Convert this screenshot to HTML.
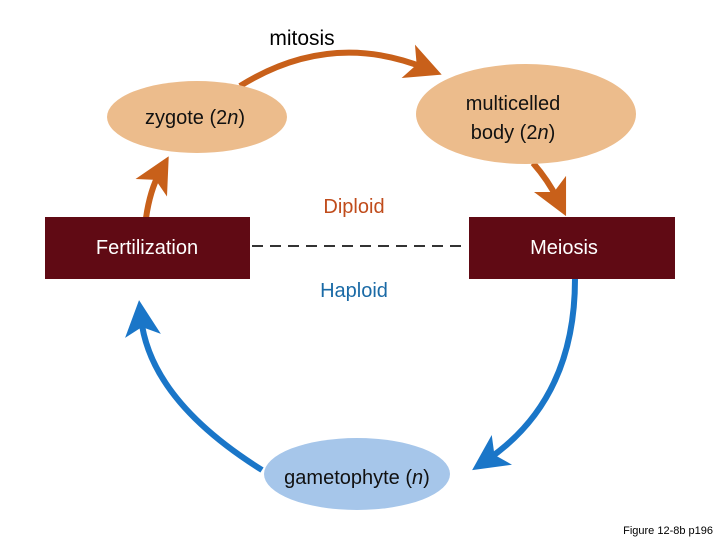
<!DOCTYPE html>
<html><head><style>
html,body{margin:0;padding:0;background:#fff;}
svg{display:block;font-family:"Liberation Sans",Arial,sans-serif;}
</style></head><body>
<svg width="720" height="540" viewBox="0 0 720 540" xmlns="http://www.w3.org/2000/svg">
<defs>
<marker id="ao" markerWidth="6" markerHeight="6" refX="3" refY="3" orient="auto" markerUnits="strokeWidth"><path d="M0,0 L6,3 L0,6 L1.5,3 Z" fill="#c8601a"/></marker>
<marker id="ab" markerWidth="6" markerHeight="6" refX="3" refY="3" orient="auto" markerUnits="strokeWidth"><path d="M0,0 L6,3 L0,6 L1.5,3 Z" fill="#1a76c8"/></marker>
</defs>
<path d="M240,86 Q330,30 425,68" fill="none" stroke="#c8601a" stroke-width="6" marker-end="url(#ao)"/>
<path d="M533,163 Q548,180 558,200" fill="none" stroke="#c8601a" stroke-width="6" marker-end="url(#ao)"/>
<path d="M146,218 Q150,190 160,172" fill="none" stroke="#c8601a" stroke-width="6" marker-end="url(#ao)"/>
<path d="M575,279 Q575,400 487,460" fill="none" stroke="#1a76c8" stroke-width="6" marker-end="url(#ab)"/>
<path d="M262,470 Q150,400 141,318" fill="none" stroke="#1a76c8" stroke-width="6" marker-end="url(#ab)"/>
<ellipse cx="197" cy="117" rx="90" ry="36" fill="#ecbc8c"/>
<ellipse cx="526" cy="114" rx="110" ry="50" fill="#ecbc8c"/>
<ellipse cx="357" cy="474" rx="93" ry="36" fill="#a6c6ea"/>
<rect x="45" y="217" width="205" height="62" fill="#600a14"/>
<rect x="469" y="217" width="206" height="62" fill="#600a14"/>
<line x1="252" y1="246" x2="462" y2="246" stroke="#333" stroke-width="2" stroke-dasharray="11,7"/>
<text x="302" y="45" font-size="21" text-anchor="middle" fill="#000">mitosis</text>
<text x="195" y="124" font-size="20" text-anchor="middle" fill="#111">zygote (2<tspan font-style="italic">n</tspan>)</text>
<text x="513" y="110" font-size="20" text-anchor="middle" fill="#111">multicelled</text>
<text x="513" y="139" font-size="20" text-anchor="middle" fill="#111">body (2<tspan font-style="italic">n</tspan>)</text>
<text x="147" y="254" font-size="20" text-anchor="middle" fill="#fff">Fertilization</text>
<text x="564" y="254" font-size="20" text-anchor="middle" fill="#fff">Meiosis</text>
<text x="354" y="213" font-size="20" text-anchor="middle" fill="#c04c1c">Diploid</text>
<text x="354" y="297" font-size="20" text-anchor="middle" fill="#1a6aa6">Haploid</text>
<text x="357" y="484" font-size="20" text-anchor="middle" fill="#111">gametophyte (<tspan font-style="italic">n</tspan>)</text>
<text x="713" y="534" font-size="11" text-anchor="end" fill="#000">Figure 12-8b p196</text>
</svg>
</body></html>
